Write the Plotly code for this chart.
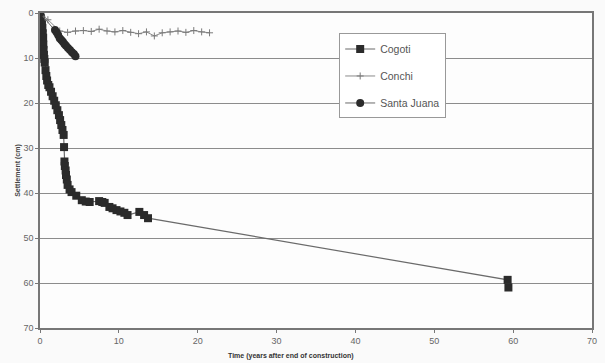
import plotly.graph_objects as go

# Cogoti
cogoti_t = [0, 0.1, 0.15, 0.25, 0.3, 0.35, 0.4, 0.42, 0.45, 0.5, 0.55, 0.6, 0.7, 0.8, 0.9, 1.05, 1.2, 1.4,
            1.6, 1.8, 2.0, 2.2, 2.4, 2.55, 2.7, 2.85, 3.0, 3.05, 3.1, 3.15, 3.25, 3.3, 3.4, 3.5, 3.75, 4.0,
            4.6, 5.3, 5.8, 6.3, 7.5, 7.9, 8.2, 8.8, 9.2, 9.7, 10.2, 10.7, 11.1, 12.6, 13.2, 13.7, 59.3, 59.4]
cogoti_s = [0, 1.0, 1.5, 2.5, 3.3, 4.5, 5.5, 7.0, 8.2, 9.3, 10.2, 11.0, 12.7, 14.0, 15.0, 16.0, 16.5, 17.5,
            18.5, 19.5, 20.5, 21.6, 22.7, 23.8, 24.9, 26.0, 27.1, 29.8, 33.0, 34.0, 35.0, 36.0, 37.0, 38.2, 39.2, 39.8,
            40.6, 41.6, 41.9, 42.0, 41.8, 42.0, 42.2, 43.1, 43.4, 43.8, 44.1, 44.4, 44.9, 44.2, 44.9, 45.6, 59.3, 61.0]

# Conchi
conchi_t = [0, 1.0, 2.5, 3.5, 4.5, 5.5, 6.5, 7.5, 8.5, 9.5, 10.5, 11.5, 12.5, 13.5, 14.5, 15.5, 16.5, 17.5,
            18.5, 19.5, 20.5, 21.5]
conchi_s = [0, 1.5, 4.0, 4.3, 4.0, 3.9, 4.1, 3.6, 4.0, 4.2, 3.9, 4.3, 4.6, 4.2, 5.1, 4.4, 4.2, 4.0,
            4.3, 3.9, 4.2, 4.4]

# Santa Juana
sj_t = [0, 1.9, 2.1, 2.3, 2.5, 2.7, 2.9, 3.1, 3.3, 3.55, 3.8, 4.05, 4.3, 4.5]
sj_s = [0, 3.8, 4.3, 4.9, 5.6, 6.0, 6.4, 6.9, 7.3, 7.8, 8.2, 8.7, 9.1, 9.6]

x_ticks = [0, 10, 20, 30, 40, 50, 60, 70]
y_ticks = [0, 10, 20, 30, 40, 50, 60, 70]

fig = go.Figure()
fig.add_trace(go.Scatter(x=cogoti_t, y=cogoti_s, name="Cogoti", mode="lines+markers",
                         legendgroup="a",
                         line=dict(color="#6a6a6a", width=1.2),
                         marker=dict(symbol="square", size=8, color="#2b2b2b")))
fig.add_trace(go.Scatter(x=conchi_t, y=conchi_s, name="Conchi", mode="lines+markers",
                         legendgroup="b",
                         line=dict(color="#8a8a8a", width=1),
                         marker=dict(symbol="cross-thin", size=5, color="#7a7a7a",
                                     line=dict(color="#7a7a7a", width=1))))
fig.add_trace(go.Scatter(x=sj_t, y=sj_s, name="Santa Juana", mode="lines+markers",
                         legendgroup="c",
                         line=dict(color="#6a6a6a", width=1),
                         marker=dict(symbol="circle", size=8, color="#2b2b2b")))

fig.update_layout(
    width=605, height=363,
    margin=dict(l=40, r=8, t=13, b=35),
    paper_bgcolor="#fafafa", plot_bgcolor="#fdfdfd",
    font=dict(family="Liberation Sans, Arial, sans-serif", color="#555555", size=8),
    showlegend=True,
    legend=dict(x=0.542, y=0.935, xanchor="left", yanchor="top",
                bgcolor="#ffffff", bordercolor="#999999", borderwidth=1,
                font=dict(size=10.5, color="#555555"), tracegroupgap=8,
                itemwidth=30),
    xaxis=dict(range=[0, 70], tickvals=x_ticks, showgrid=False, zeroline=False,
               showline=True, linecolor="#777777", linewidth=1.5, mirror=True,
               ticks="outside", ticklen=3, tickcolor="#777777",
               tickfont=dict(size=9, color="#666666")),
    yaxis=dict(range=[70, 0], tickvals=y_ticks, showgrid=True, gridcolor="#8c8c8c",
               gridwidth=1.3, zeroline=False,
               showline=True, linecolor="#777777", linewidth=1.5, mirror=True,
               ticks="outside", ticklen=3, tickcolor="#777777",
               tickfont=dict(size=9, color="#666666")),
)

fig.add_annotation(text="<b>Time (years after end of construction)</b>", xref="paper", yref="paper",
                   x=(293 - 40) / 557, y=-0.07, yanchor="top", showarrow=False,
                   font=dict(size=7, color="#333333"))
fig.add_annotation(text="<b>Settlement (cm)</b>", xref="paper", yref="paper",
                   x=-0.052, y=0.5, textangle=-90, showarrow=False,
                   font=dict(size=7, color="#444444"))

fig.write_html("out.html", config={"displayModeBar": False},
               post_script="document.body.style.margin='0';document.body.style.overflow='hidden';")
